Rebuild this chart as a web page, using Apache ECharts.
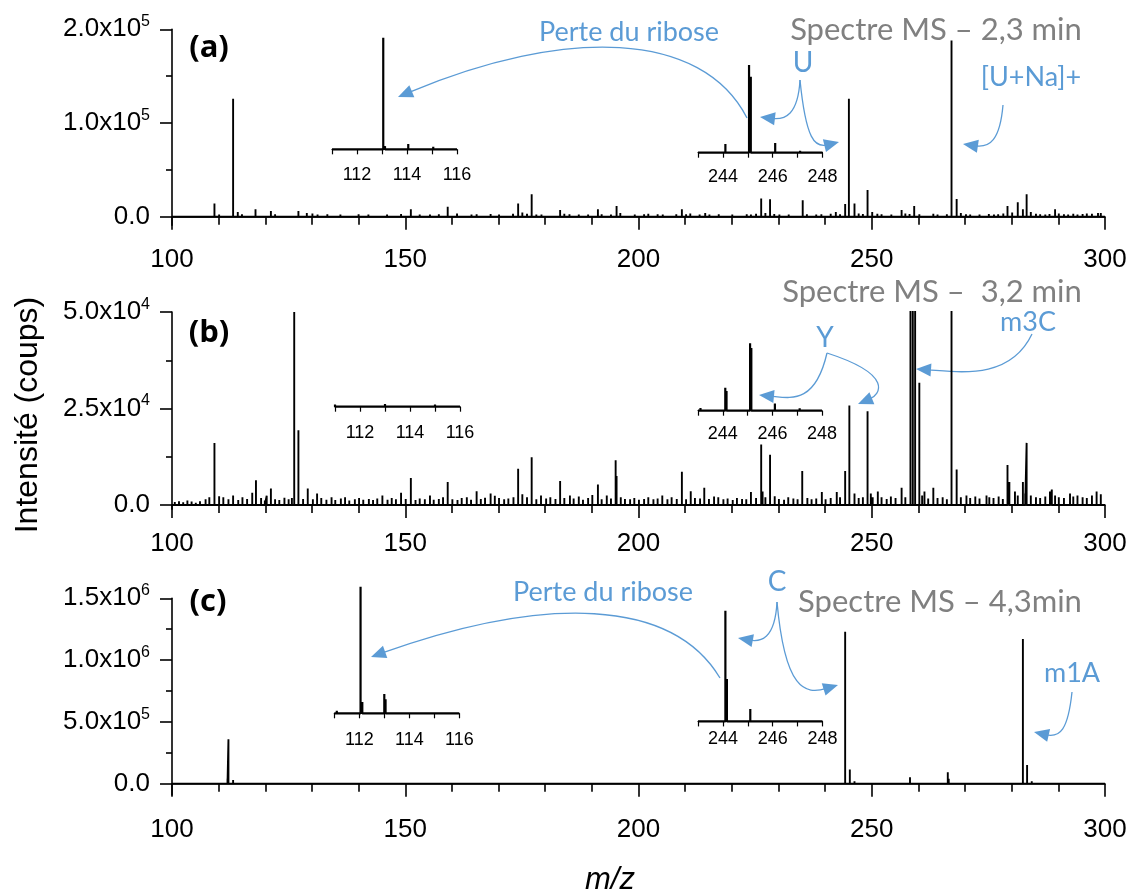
<!DOCTYPE html>
<html><head><meta charset="utf-8">
<script src="https://cdn.jsdelivr.net/npm/echarts@6/dist/echarts.min.js"></script>
<style>html,body{margin:0;padding:0;background:#fff}#c{width:1133px;height:894px}</style>
</head><body><div id="c"></div>
<script>
// ---------- DATA ----------
const xTicksMain = [100, 150, 200, 250, 300];
const peaksA = [[109.1,14000],[113.1,126000],[114.1,5000],[117.9,8000],[121.2,6000],[127.1,6000],[128.9,4000],[151.2,8000],[159.1,10500],[174.2,14000],[177.1,24000],[183.2,7000],[191.3,8000],[195.3,11500],[209.3,8000],[226.3,19500],[228.2,18500],[235.2,17500],[242.3,5000],[244.3,13500],[245.1,126000],[246.3,14000],[249.1,28500],[256.4,7000],[259.1,11500],[263.2,3000],[267.1,188000],[268.2,19000],[279.1,11500],[281.3,15500],[282.4,8000],[283.2,24000],[289.3,8000],[298.5,4000]];
const noiseA = [[101.2,900],[102.8,1300],[104.1,800],[105.6,1500],[107.0,1100],[108.2,1800],[110.1,2200],[111.1,1600],[112.0,1200],[115.0,2500],[116.1,1800],[119.1,2000],[120.2,1400],[122.1,2600],[123.3,1500],[124.9,2000],[126.1,1700],[130.1,3500],[131.2,2200],[132.1,1500],[133.3,2500],[135.0,1800],[136.1,2400],[137.2,1600],[139.1,1900],[140.0,2500],[141.2,1500],[142.1,2200],[143.3,1700],[144.9,2000],[146.1,2400],[147.0,1500],[149.1,2800],[150.2,2000],[152.3,1600],[153.1,2400],[154.2,1800],[155.3,2200],[156.3,1500],[157.2,2600],[158.1,1900],[160.2,1700],[161.1,3500],[162.3,2000],[163.2,1400],[164.2,2200],[165.3,2600],[166.1,1800],[167.2,2000],[168.3,2800],[169.2,1600],[170.1,2300],[171.2,1800],[172.3,1500],[173.1,3000],[175.1,4500],[176.1,3000],[178.1,2200],[179.2,2400],[180.1,1700],[181.2,2000],[182.1,1600],[184.1,3000],[185.2,2500],[186.1,1900],[187.2,2200],[188.1,1700],[189.2,2400],[190.1,2000],[192.1,2600],[193.2,1800],[194.1,2200],[196.1,4000],[197.2,2000],[198.1,1700],[199.2,2300],[200.1,1800],[201.2,2500],[202.1,3000],[203.2,2000],[204.1,2600],[205.2,2400],[206.1,1800],[207.2,2000],[208.1,2700],[210.2,2500],[211.1,3500],[212.2,2000],[213.1,2400],[214.3,4000],[215.2,2200],[216.1,1800],[217.2,2600],[218.1,2000],[219.2,1700],[220.1,2300],[221.2,1800],[222.1,2100],[223.2,2600],[224.1,2400],[225.2,3000],[227.2,4000],[229.1,2800],[230.2,2200],[231.1,1800],[232.2,2400],[233.1,1700],[234.2,2000],[236.1,2600],[237.2,1900],[238.1,2200],[239.2,2500],[240.1,2000],[241.2,3000],[243.2,2500],[247.2,3500],[248.1,2800],[250.1,5000],[251.2,3000],[252.1,2600],[253.3,2000],[254.2,2400],[255.1,1800],[257.2,3500],[258.1,2800],[260.2,2500],[261.1,2000],[262.2,1800],[264.1,2400],[265.2,2000],[266.1,2600],[269.1,4000],[270.2,2500],[271.1,2200],[272.2,1900],[273.1,2400],[274.2,2000],[275.1,2800],[276.2,2300],[277.1,2600],[278.2,3500],[280.1,4500],[284.1,5000],[285.2,3000],[286.1,2500],[287.2,2200],[288.1,2800],[290.1,3500],[291.2,2500],[292.1,2200],[293.2,3000],[294.1,2400],[295.2,2800],[296.1,3500],[297.2,3000],[299.1,4000]];

const peaksB = [[109.1,16100],[118.0,6400],[121.2,4300],[126.2,50000],[127.1,19400],[151.2,7000],[159.1,6000],[174.2,9400],[177.1,12400],[183.2,6200],[191.3,5300],[195.1,11600],[195.3,7500],[209.3,8600],[211.2,3600],[214.1,4500],[226.3,15700],[228.2,13000],[235.1,8800],[244.3,8800],[245.2,25800],[249.1,24300],[258.3,95000],[258.8,90000],[259.3,80000],[260.2,31700],[267.1,60000],[268.2,9200],[279.1,10400],[282.4,6000],[283.2,16100]];
const noiseB = [[100.6,800],[101.5,1000],[102.4,700],[103.3,1200],[104.2,900],[105.1,600],[106.0,1000],[107.2,1500],[108.0,2000],[110.1,2300],[111.0,2000],[112.1,1500],[113.1,2500],[114.2,1300],[115.1,2000],[116.1,1600],[117.2,3200],[119.1,1800],[119.9,1200],[120.3,2400],[122.1,1500],[123.0,1300],[124.1,1900],[125.0,1500],[125.7,1800],[128.1,1600],[129.1,4300],[130.2,1500],[131.1,3000],[132.0,1800],[133.1,1400],[134.2,2000],[135.0,1300],[136.2,1700],[137.1,2000],[138.0,1200],[139.2,1500],[140.1,1800],[141.0,1400],[142.2,1600],[143.1,1300],[144.0,1700],[145.1,2500],[146.2,1400],[147.1,1800],[148.0,1500],[149.1,3200],[150.1,1600],[152.2,1300],[153.1,1700],[154.2,1500],[155.3,2500],[156.1,1400],[157.2,1600],[158.1,2000],[160.1,1500],[161.2,1300],[162.1,1800],[163.2,2000],[164.1,1400],[165.3,3600],[166.2,1600],[167.1,1900],[168.3,3000],[169.2,2400],[170.1,1800],[171.2,1500],[172.1,1700],[173.2,2000],[175.1,2800],[176.1,2000],[178.1,1500],[179.1,2500],[180.2,1700],[181.1,2000],[182.2,1600],[184.1,1800],[185.3,2500],[186.1,1700],[187.2,2200],[188.1,1400],[189.2,1800],[190.1,2600],[192.1,1500],[193.2,2500],[194.1,1700],[196.2,2000],[197.1,1600],[198.2,1500],[199.1,1800],[200.1,1400],[201.2,1600],[202.1,2000],[203.2,1500],[204.1,1700],[205.1,2500],[206.2,1500],[207.1,2000],[208.2,1600],[210.2,1500],[212.1,1800],[213.2,1700],[215.1,1600],[216.2,2200],[217.1,2000],[218.2,1500],[219.1,1700],[220.2,1300],[221.1,1800],[222.2,1600],[223.1,1500],[224.1,3400],[225.2,1800],[226.6,3500],[227.2,2000],[229.2,2300],[230.1,1600],[231.2,1400],[232.1,2000],[233.2,1700],[234.1,1500],[236.2,1800],[237.1,1500],[238.1,1700],[239.3,3400],[240.1,1500],[241.2,1800],[242.5,3400],[243.2,2000],[246.3,3000],[247.2,1800],[248.1,2000],[249.8,3000],[250.2,2000],[251.3,3500],[252.1,2000],[253.2,1600],[254.1,2200],[255.1,1800],[256.4,4500],[257.2,2000],[260.8,2500],[261.3,3500],[262.1,1700],[263.2,4500],[264.1,1800],[265.2,2000],[266.1,1500],[269.1,2000],[270.3,2500],[271.1,1800],[272.2,2200],[273.1,1700],[274.6,2500],[275.2,2000],[276.1,1800],[277.2,2200],[278.1,1600],[279.5,6000],[280.7,3500],[281.3,2500],[282.9,3000],[284.1,2500],[285.2,2000],[286.1,1800],[287.2,2200],[288.2,3500],[288.6,4000],[289.3,2500],[290.1,2000],[291.2,1800],[292.5,3000],[293.2,2200],[294.1,2500],[295.2,2000],[296.1,1800],[297.2,2500],[298.2,3500],[299.1,2800]];

const peaksC = [[108.1,12000],[109.1,10000],[111.9,40000],[112.1,360000],[113.1,30000],[244.3,1230000],[245.3,115000],[246.3,20000],[258.2,52000],[266.3,92000],[266.5,40000],[282.4,1170000],[283.3,150000],[284.3,20000]];
const noiseC = [[110.1,6000],[111.2,8000],[114.2,9000],[116.1,5000],[118.2,6000],[121.1,5000],[124.2,4000],[127.1,6000],[130.0,5000],[133.2,6000],[135.1,5000],[137.0,7000],[139.2,5000],[141.1,6000],[143.2,5000],[145.1,7000],[147.2,6000],[149.1,5000],[151.1,6000],[153.2,5000],[155.1,4000],[157.2,6000],[159.1,5000],[161.2,6000],[163.1,7000],[165.2,5000],[167.1,6000],[169.2,5000],[171.1,6000],[173.2,5000],[175.1,4000],[177.1,8000],[179.2,5000],[181.1,6000],[183.2,5000],[185.1,6000],[187.2,5000],[189.1,6000],[191.2,5000],[193.1,4000],[195.2,7000],[197.1,5000],[199.2,6000],[201.1,5000],[203.2,6000],[205.1,5000],[207.2,4000],[209.1,6000],[211.2,5000],[213.1,6000],[215.2,5000],[217.1,6000],[219.2,7000],[222.1,5000],[225.2,6000],[227.1,8000],[229.2,6000],[231.1,5000],[233.2,4000],[235.1,6000],[237.2,5000],[239.1,5000],[241.2,6000],[243.1,7000],[247.2,8000],[249.1,6000],[251.2,5000],[253.1,6000],[255.2,5000],[257.1,6000],[260.2,5000],[262.1,6000],[264.2,5000],[268.1,9000],[270.2,6000],[272.1,5000],[274.2,6000],[276.1,5000],[278.2,7000],[280.1,6000],[281.2,8000],[285.2,5000],[287.1,6000],[289.2,5000],[291.1,4000],[293.2,5000],[295.1,6000],[297.2,5000],[299.1,6000]];

const insetAL = [[111.0,1700],[113.05,126000],[113.12,3500],[114.05,6000],[115.05,2800]];
const insetAR = [[244.1,12500],[245.05,126000],[245.12,109000],[246.1,14000],[247.1,2900]];
const insetBL = [[111.0,800],[112.0,400],[113.0,1000],[114.0,400],[115.0,800]];
const insetBR = [[243.1,1000],[244.1,8800],[244.15,7500],[245.1,25800],[245.15,24000],[246.1,2800],[247.1,900]];
const insetCL = [[111.1,7400],[112.05,360000],[112.12,32000],[113.0,55000],[113.05,40000],[114.05,4000],[115.05,4000]];
const insetCR = [[244.1,1230000],[244.16,470000],[245.1,137000]];

const yLabelsA = [0, 100000, 200000], yMinorA = [50000, 150000];
const yLabelsB = [0, 25000, 50000], yMinorB = [12500, 37500];
const yLabelsC = [0, 500000, 1000000, 1500000], yMinorC = [250000, 750000, 1250000];

const titles = ['Spectre MS \u2013 2,3 min', 'Spectre MS \u2013  3,2 min', 'Spectre MS \u2013 4,3min'];
const panelLabels = ['(a)', '(b)', '(c)'];
// ---------- BUILD ----------
function sticks(peaks, lo, hi) {
  const s = peaks.slice().sort((a, b) => a[0] - b[0]);
  const out = [[lo, 0]];
  s.forEach(([m, h]) => { out.push([m, 0], [m, h], [m, 0]); });
  out.push([hi, 0]);
  return out;
}
const SANS = "'Liberation Sans', Arial, sans-serif";
const CAL = "Lato, 'Open Sans', sans-serif";
const BLUE = '#5B9BD5';

function sciFmt(v) {
  if (v === 0) return '{a|0.0}';
  const [m, e] = v.toExponential(1).split('e');
  return '{a|' + m + 'x10}{s|' + parseInt(e, 10) + '}';
}
const richY = {
  a: { fontSize: 26, fontFamily: SANS, color: '#000' },
  s: { fontSize: 16, fontFamily: SANS, color: '#000', padding: [0, 0, 15, 0] }
};

const main = [
  { top: 29.3, h: 196, min: -9200, max: 200000, lab: yLabelsA, minor: yMinorA, data: peaksA.concat(noiseA) },
  { top: 312, h: 197.3, min: -1100, max: 50000, lab: yLabelsB, minor: yMinorB, data: peaksB.concat(noiseB) },
  { top: 598.3, h: 196.7, min: -92000, max: 1500000, lab: yLabelsC, minor: yMinorC, data: peaksC.concat(noiseC) }
];
const insets = [
  { left: 332, top: 37.7, w: 125, h: 120.3, xmin: 111, xmax: 116, min: -9800, max: 126000, data: insetAL },
  { left: 698, top: 65, w: 124.5, h: 95, xmin: 243, xmax: 248, min: -10500, max: 126000, data: insetAR },
  { left: 335, top: 339.3, w: 125, h: 76.7, xmin: 111, xmax: 116, min: -3560, max: 25800, data: insetBL },
  { left: 698, top: 343.3, w: 124, h: 73.4, xmin: 243, xmax: 248, min: -2300, max: 25800, data: insetBR },
  { left: 334.3, top: 586.7, w: 125, h: 136, xmin: 111, xmax: 116, min: -26700, max: 360000, data: insetCL },
  { left: 698, top: 610.7, w: 124.5, h: 111.8, xmin: 243, xmax: 248, min: -12000, max: 1230000, data: insetCR }
];

const grid = [], xAxis = [], yAxis = [], series = [];
main.forEach((p, i) => {
  grid.push({ left: 172, top: p.top, width: 933, height: p.h });
  xAxis.push({
    type: 'value', gridIndex: i, min: 100, max: 300, interval: 50,
    axisLine: { lineStyle: { color: '#000', width: 1.6 } },
    axisTick: { length: 13, lineStyle: { color: '#000', width: 1.6 } },
    minorTick: { show: true, splitNumber: 5, length: 8, lineStyle: { color: '#000', width: 1.6 } },
    splitLine: { show: false }, minorSplitLine: { show: false },
    axisLabel: { color: '#000', fontSize: 26, fontFamily: SANS, margin: 22,
      formatter: v => xTicksMain.indexOf(v) >= 0 ? String(v) : '' }
  });
  const yi = yAxis.length;
  yAxis.push({
    type: 'value', gridIndex: i, min: p.min, max: p.max,
    axisLine: { show: true, lineStyle: { color: '#000', width: 1.6 } },
    axisTick: { show: true, length: 12, customValues: p.lab, lineStyle: { color: '#000', width: 1.6 } },
    splitLine: { show: false },
    axisLabel: { customValues: p.lab, margin: 22, formatter: sciFmt, rich: richY }
  });
  yAxis.push({
    type: 'value', gridIndex: i, min: p.min, max: p.max, position: 'left',
    axisLine: { show: false },
    axisTick: { show: true, length: 6, customValues: p.minor, lineStyle: { color: '#000', width: 1.6 } },
    splitLine: { show: false }, axisLabel: { show: false }
  });
  series.push({
    type: 'line', xAxisIndex: i, yAxisIndex: yi, data: sticks(p.data, 100, 300),
    symbol: 'none', clip: true, animation: false, silent: true,
    lineStyle: { color: '#000', width: 1.9 }
  });
});
insets.forEach((p, k) => {
  const gi = grid.length;
  grid.push({ left: p.left, top: p.top, width: p.w, height: p.h });
  xAxis.push({
    type: 'value', gridIndex: gi, min: p.xmin, max: p.xmax, interval: 1,
    axisLine: { lineStyle: { color: '#000', width: 1.2 } },
    axisTick: { length: 5, lineStyle: { color: '#000', width: 1.2 } },
    splitLine: { show: false },
    axisLabel: { color: '#000', fontSize: 18, fontFamily: SANS, margin: 8,
      formatter: v => (v % 2 === 0 ? String(v) : '') }
  });
  const yi = yAxis.length;
  yAxis.push({ type: 'value', gridIndex: gi, min: p.min, max: p.max, show: false, splitLine: { show: false } });
  series.push({
    type: 'line', xAxisIndex: gi, yAxisIndex: yi, data: sticks(p.data, p.xmin, p.xmax),
    symbol: 'none', clip: true, animation: false, silent: true,
    lineStyle: { color: '#000', width: 2.2 }
  });
});

// ---------- ANNOTATIONS ----------
const graphic = [];
function txt(s, x, y, font, fill, rot) {
  graphic.push({ type: 'text', x: x, y: y, rotation: rot || 0, silent: true,
    style: { text: s, font: font, fill: fill, align: 'center', verticalAlign: 'middle' } });
}
function arrow(a) {
  const [x1, y1, c1x, c1y, c2x, c2y, x2, y2] = a;
  let dx = x2 - c2x, dy = y2 - c2y; const L = Math.hypot(dx, dy); dx /= L; dy /= L;
  const len = 15, w = 6.5;
  const bx = x2 - dx * len, by = y2 - dy * len;
  graphic.push({ type: 'bezierCurve', silent: true,
    shape: { x1, y1, cpx1: c1x, cpy1: c1y, cpx2: c2x, cpy2: c2y, x2: bx + dx * 3, y2: by + dy * 3 },
    style: { stroke: BLUE, lineWidth: 1.3, fill: null } });
  graphic.push({ type: 'polygon', silent: true,
    shape: { points: [[x2, y2], [bx - dy * w, by + dx * w], [bx + dy * w, by - dx * w]] },
    style: { fill: BLUE } });
}
// panel (a)
txt('Perte du ribose', 629, 32, "27px " + CAL, BLUE);
txt('U', 803, 63, "28px " + CAL, BLUE);
txt('[U+Na]+', 1031, 77, "27px " + CAL, BLUE);
arrow([747, 118, 702, 30, 565, 27, 398, 97]);
arrow([800, 80, 798, 115, 785, 120, 760, 117]);
arrow([800, 80, 806, 140, 815, 148, 839, 142]);
arrow([1003, 105, 1000, 140, 990, 148, 963, 144]);
// panel (b)
txt('m3C', 1028, 322, "27px " + CAL, BLUE);
txt('Y', 825, 338, "28px " + CAL, BLUE);
arrow([1032, 334, 1010, 380, 960, 372, 916, 369]);
arrow([827, 353, 815, 405, 790, 398, 759, 395]);
arrow([827, 353, 895, 375, 880, 395, 858, 404]);
// panel (c)
txt('Perte du ribose', 603, 592, "27px " + CAL, BLUE);
txt('C', 777, 582, "28px " + CAL, BLUE);
txt('m1A', 1072, 673, "27px " + CAL, BLUE);
arrow([720, 678, 672, 598, 545, 595, 371, 657]);
arrow([777, 602, 775, 640, 760, 642, 738, 638]);
arrow([777, 602, 785, 690, 805, 695, 838, 685]);
arrow([1072, 692, 1068, 730, 1060, 738, 1034, 732]);
// titles
txt(titles[0], 936, 30, "31px " + CAL, '#808080');
txt(titles[1], 932, 292, "31px " + CAL, '#808080');
txt(titles[2], 940, 602, "31px " + CAL, '#808080');
// panel labels
txt(panelLabels[0], 209, 48, "bold 31px 'Open Sans', sans-serif", '#000');
txt(panelLabels[1], 209, 333, "bold 31px 'Open Sans', sans-serif", '#000');
txt(panelLabels[2], 208, 602, "bold 31px 'Open Sans', sans-serif", '#000');
// axis titles
txt('Intensit\u00e9 (coups)', 28, 415, "32px " + SANS, '#000', Math.PI / 2);
txt('m/z', 610, 880, "italic 31px " + SANS, '#000');

const chart = echarts.init(document.getElementById('c'), null, { renderer: 'canvas', width: 1133, height: 894 });
chart.setOption({ backgroundColor: '#fff', animation: false, grid, xAxis, yAxis, series, graphic });
</script></body></html>
